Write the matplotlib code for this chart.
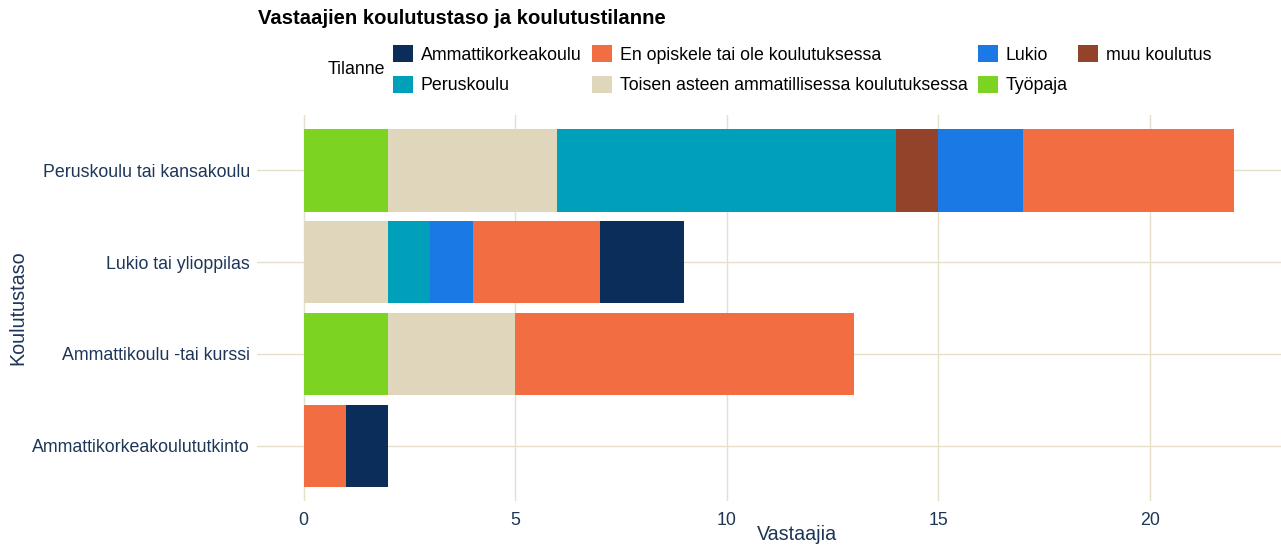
import matplotlib
matplotlib.use("Agg")
import matplotlib.pyplot as plt
import numpy as np
from matplotlib.patches import Patch

plt.rcParams['font.family'] = ['Liberation Sans', 'DejaVu Sans']

categories = ["Peruskoulu tai kansakoulu", "Lukio tai ylioppilas",
              "Ammattikoulu -tai kurssi", "Ammattikorkeakoulututkinto"]

# stacking order, left to right
series_names = ["Työpaja", "Toisen asteen ammatillisessa koulutuksessa", "Peruskoulu",
                "muu koulutus", "Lukio", "En opiskele tai ole koulutuksessa",
                "Ammattikorkeakoulu"]
tyopaja = [2, 0, 2, 0]
toisen = [4, 2, 3, 0]
peruskoulu = [8, 1, 0, 0]
muu = [1, 0, 0, 0]
lukio = [2, 1, 0, 0]
en_opiskele = [5, 3, 8, 1]
amk = [0, 2, 0, 1]
series_values = [tyopaja, toisen, peruskoulu, muu, lukio, en_opiskele, amk]
colors = {
    "Ammattikorkeakoulu": "#0b2d59",
    "En opiskele tai ole koulutuksessa": "#f26d41",
    "Lukio": "#1b79e6",
    "muu koulutus": "#93432a",
    "Peruskoulu": "#009fba",
    "Toisen asteen ammatillisessa koulutuksessa": "#dfd6bb",
    "Työpaja": "#7dd321",
}
legend_order = ["Ammattikorkeakoulu", "Peruskoulu", "En opiskele tai ole koulutuksessa",
                "Toisen asteen ammatillisessa koulutuksessa", "Lukio", "Työpaja",
                "muu koulutus"]

W, H = 1281, 548
fig = plt.figure(figsize=(W / 100, H / 100), dpi=100)
fig.patch.set_facecolor("white")
ax = fig.add_axes([257 / W, (H - 501) / H, (1281 - 257) / W, (501 - 115) / H])

y = np.arange(len(categories))
left = np.zeros(len(categories))
for name, vals in zip(series_names, series_values):
    vals = np.array(vals, dtype=float)
    ax.barh(y, vals, left=left, height=0.9, color=colors[name], zorder=3, linewidth=0)
    left += vals

ax.set_ylim(len(categories) - 1 + 0.6, -0.6)
ax.set_xlim(-1.1, 23.1)
ax.set_yticks(y)
ax.set_yticklabels(categories)
ax.set_xticks([0, 5, 10, 15, 20])
grid_c = "#e6e0ca"
ax.grid(True, color=grid_c, linewidth=1.0, zorder=0)
for s in ax.spines.values():
    s.set_visible(False)
tick_c = "#1d3658"
ax.tick_params(axis='both', length=0, labelsize=12.8, colors=tick_c)
ax.tick_params(axis='y', pad=5)
ax.tick_params(axis='x', pad=8)
ax.set_xlabel("Vastaajia", fontsize=14.2, color=tick_c)
ax.set_ylabel("Koulutustaso", fontsize=14.2, color=tick_c)
ax.xaxis.set_label_coords((797 - 257) / (1281 - 257), -(535 - 501) / (501 - 115))
ax.xaxis.label.set_va('center')
ax.yaxis.set_label_coords(-(257 - 18) / (1281 - 257), (501 - 308) / (501 - 115))
ax.yaxis.label.set_va('center')

fig.text(258 / W, 1 - 18 / H, "Vastaajien koulutustaso ja koulutustilanne",
         fontsize=14.6, fontweight='bold', ha='left', va='center', color='black')
fig.text(328 / W, 1 - 70 / H, "Tilanne", fontsize=12.8, ha='left', va='center', color='black')

handles = [Patch(facecolor=colors[n], edgecolor='none', label=n) for n in legend_order]
leg = fig.legend(handles=handles, ncol=4, loc='upper left',
                 bbox_to_anchor=(393 / W, 1 - 45 / H), frameon=False,
                 fontsize=12.8, handlelength=1.12, handleheight=1.12,
                 handletextpad=0.45, columnspacing=0.57, labelspacing=0.67,
                 borderpad=0, borderaxespad=0)

fig.savefig("out.png", dpi=100, facecolor="white")
